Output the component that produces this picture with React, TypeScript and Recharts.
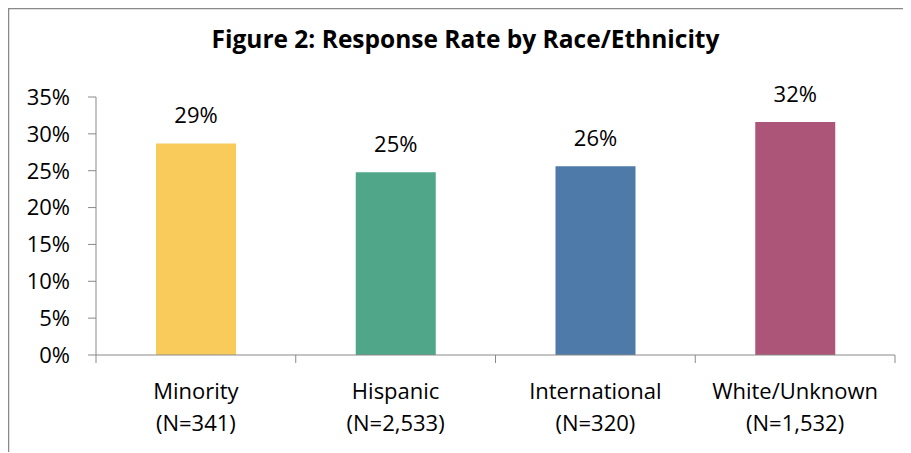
import React from "react";
import {
  Bar,
  BarChart,
  Cell,
  Customized,
  LabelList,
  XAxis,
  YAxis,
} from "recharts";

const groups = ["Minority", "Hispanic", "International", "White/Unknown"];
const counts = ["(N=341)", "(N=2,533)", "(N=320)", "(N=1,532)"];
const responseRate = [28.7, 24.8, 25.6, 31.6];
const yTicks = [0, 5, 10, 15, 20, 25, 30, 35];
const barColors = ["#F9CB5B", "#4FA688", "#4D7AA8", "#AD5479"];

const FONT = "'Open Sans', sans-serif";
const AXIS_GREY = "#898989";

const CHART_W = 895;
const CHART_H = 444;
const MARGIN = { top: 89, right: 8, bottom: 96, left: 0 };
const Y_AXIS_W = 88;
// width of one category band, used for the separator ticks between groups
const BAND = (CHART_W - MARGIN.left - MARGIN.right - Y_AXIS_W) / groups.length;

const data = groups.map((g, i) => ({
  group: g,
  count: counts[i],
  rate: responseRate[i],
}));

// two-line category label plus the tick marks at the band edges
const GroupTick = (props: any) => {
  const { x, y, payload, index } = props;
  const left = x - BAND / 2;
  const right = x + BAND / 2;
  return (
    <g>
      <line x1={left} x2={left} y1={y} y2={y + 8} stroke={AXIS_GREY} />
      {index === groups.length - 1 && (
        <line x1={right} x2={right} y1={y} y2={y + 8} stroke={AXIS_GREY} />
      )}
      <text
        x={x}
        y={y}
        textAnchor="middle"
        fontFamily={FONT}
        fontSize={22}
        fill="#000"
      >
        <tspan x={x} dy={44}>
          {payload.value}
        </tspan>
        <tspan x={x} dy={32}>
          {counts[index]}
        </tspan>
      </text>
    </g>
  );
};

const Title = () => (
  <text
    x={457.5}
    y={40}
    textAnchor="middle"
    fontFamily={FONT}
    fontWeight="bold"
    fontSize={24.5}
    fill="#000"
  >
    Figure 2: Response Rate by Race/Ethnicity
  </text>
);

const App = () => {
  return (
    <div style={{ position: "relative", width: 903, height: 445 }}>
      <BarChart
        width={CHART_W}
        height={CHART_H}
        data={data}
        margin={MARGIN}
        barCategoryGap={0}
      >
        {/* frame around the chart, open on the right and bottom */}
        <Customized
          component={() => (
            <path
              d={`M0.5,${CHART_H} V0.5 H${CHART_W}`}
              fill="none"
              stroke={AXIS_GREY}
              strokeWidth={1.5}
            />
          )}
        />
        <Customized component={Title} />
        <XAxis
          dataKey="group"
          height={1}
          stroke={AXIS_GREY}
          tickLine={false}
          tickSize={0}
          tickMargin={0}
          interval={0}
          tick={<GroupTick />}
        />
        <YAxis
          width={Y_AXIS_W}
          domain={[0, 35]}
          ticks={yTicks}
          interval={0}
          stroke={AXIS_GREY}
          tickSize={8}
          tickMargin={18}
          tick={{ fill: "#000", fontSize: 22, fontFamily: FONT }}
          tickFormatter={(v: number) => `${v}%`}
        />
        <Bar dataKey="rate" barSize={80} isAnimationActive={false}>
          {data.map((d, i) => (
            <Cell key={d.group} fill={barColors[i]} />
          ))}
          <LabelList
            dataKey="rate"
            position="top"
            offset={20}
            fill="#000"
            fontSize={22}
            fontFamily={FONT}
            formatter={(v: any) => `${Math.round(Number(v))}%`}
          />
        </Bar>
      </BarChart>
    </div>
  );
};

export default App;
